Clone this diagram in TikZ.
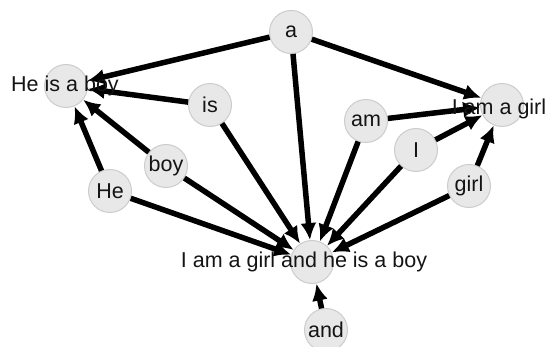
\documentclass[tikz,border=0pt]{standalone}
\usepackage{fontspec}
\setmainfont{Liberation Sans}
\usetikzlibrary{arrows.meta}
\begin{document}
\begin{tikzpicture}[x=1pt,y=-1pt,
  vtx/.style={circle,draw=black!20,line width=1pt,fill=black!9,minimum size=43pt,inner sep=0pt},
  lbl/.style={font=\fontsize{21.5}{24}\selectfont,text=black!92,inner sep=0pt},
  link/.style={line width=5.5pt,-{Latex[length=17pt,width=16pt]}}]
\useasboundingbox (0,0) rectangle (546,347);
% vertices
\node[vtx] (a) at (291,32) {};
\node[vtx] (hb) at (66,86) {};
\node[vtx] (is) at (210,105) {};
\node[vtx] (am) at (366,121) {};
\node[vtx] (ig) at (502,105) {};
\node[vtx] (i) at (416,150) {};
\node[vtx] (girl) at (469,186) {};
\node[vtx] (boy) at (166,166) {};
\node[vtx] (he) at (110,191) {};
\node[vtx] (big) at (312,262) {};
\node[vtx] (and) at (326,330) {};
% connectors
\draw[link] (a) -- (hb);
\draw[link] (a) -- (ig);
\draw[link] (a) -- (big);
\draw[link] (is) -- (hb);
\draw[link] (is) -- (big);
\draw[link] (boy) -- (hb);
\draw[link] (boy) -- (big);
\draw[link] (he) -- (hb);
\draw[link] (he) -- (big);
\draw[link] (am) -- (ig);
\draw[link] (am) -- (big);
\draw[link] (i) -- (ig);
\draw[link] (i) -- (big);
\draw[link] (girl) -- (ig);
\draw[link] (girl) -- (big);
\draw[link] (and) -- (big);
% labels
\node[lbl] (ta) at (a) {a};
\node[lbl] (thb) at (65,86) {He is a boy};
\node[lbl] (tis) at (is) {is};
\node[lbl] (tam) at (am) {am};
\node[lbl] (tig) at (499,109) {I am a girl};
\node[lbl] (ti) at (i) {I};
\node[lbl] (tgirl) at (girl) {girl};
\node[lbl] (tboy) at (boy) {boy};
\node[lbl] (the) at (he) {He};
\node[lbl] (tbig) at (304,262) {I am a girl and he is a boy};
\node[lbl] (tand) at (and) {and};
\end{tikzpicture}
\end{document}
